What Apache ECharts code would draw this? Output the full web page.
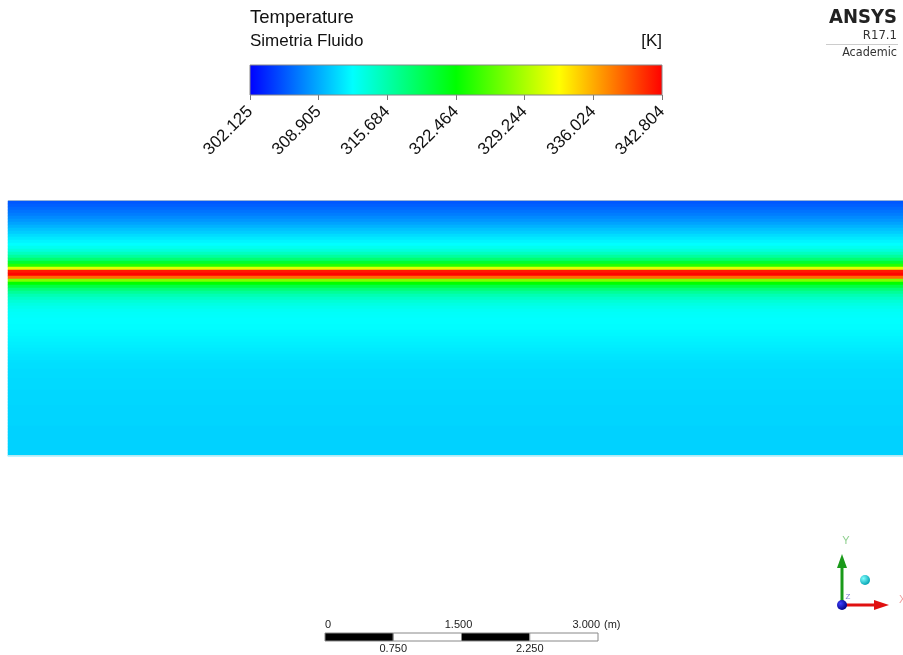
<!DOCTYPE html>
<html>
<head>
<meta charset="utf-8">
<script src="https://cdn.jsdelivr.net/npm/echarts@6/dist/echarts.min.js"></script>
<style>html,body{margin:0;padding:0;background:#fff}#c{width:903px;height:655px}</style>
</head>
<body>
<div id="c"></div>
<script>
// Colour-scale tick labels [K]
const tickLabels = ['302.125','308.905','315.684','322.464','329.244','336.024','342.804'];
const tMin = 302.125, tMax = 342.804;
// ANSYS rainbow colour map
const colormap = ['#0000ff','#0080ff','#00ffff','#00ff80','#00ff00','#80ff00','#ffff00','#ff8000','#ff0000'];
// Temperature profile on the symmetry plane, top row first (K)
const profile = [
  305.6,305.9,306.3,306.7,307.1,307.6,308.1,308.6,309.2,309.8,
  310.3,310.9,311.4,311.9,312.3,312.9,313.7,314.8,316.2,318.0,
  320.5,324.0,331.5,341.8,342.6,338.5,327.5,322.5,319.8,317.8,
  316.4,315.3,314.5,313.9,313.4,313.0,312.7,312.5,312.4,312.3,
  312.3,312.2,312.2,312.1,312.0,311.9,311.8,311.7,311.6,311.5,
  311.4,311.3,311.2,311.1,311.0,311.0,310.9,310.9,310.9,310.8,
  310.8,310.8,310.8,310.7,310.7,310.7,310.7,310.7,310.6,310.6,
  310.6,310.6,310.6,310.6,310.6,310.5,310.5,310.5,310.5,310.5,
  310.5,310.5,310.5,310.5,310.5
];
// Scale bar labels (m)
const scaleTop = ['0','1.500','3.000'];
const scaleBottom = ['0.750','2.250'];

const rows = profile.map((_, i) => 'r' + i);
const heatData = profile.map((v, i) => [0, i, v]);

const chart = echarts.init(document.getElementById('c'), null, {renderer: 'canvas'});
const font = 'Liberation Sans, Arial, sans-serif';

const stops = colormap.map((c, i) => ({offset: i / (colormap.length - 1), color: c}));

// scale bar geometry
const sbL = 325, sbR = 598, sbT = 633, sbH = 8;
const seg = (sbR - sbL) / 4;
const scaleGraphics = [];
for (let i = 0; i < 4; i++) {
  scaleGraphics.push({type:'rect', shape:{x: sbL + i*seg, y: sbT, width: seg, height: sbH},
    style:{fill: i % 2 === 0 ? '#000' : '#fff', stroke: '#888', lineWidth: 1}});
}
const topAlign = ['left', 'center', 'right'];
const topX = [sbL, sbL + 2*seg - 3, sbR + 2];
scaleTop.forEach((t, i) => scaleGraphics.push({type:'text', x: topX[i], y: sbT - 3,
  style:{text: t, font: '11px ' + font, fill: '#222', textAlign: topAlign[i], textVerticalAlign: 'bottom'}}));
scaleGraphics.push({type:'text', x: sbR + 6, y: sbT - 3, style:{text:'(m)', font:'11px ' + font, fill:'#222', textAlign:'left', textVerticalAlign:'bottom'}});
scaleBottom.forEach((t, i) => scaleGraphics.push({type:'text', x: sbL + (2*i+1)*seg, y: sbT + sbH + 2,
  style:{text: t, font: '11px ' + font, fill: '#222', textAlign: 'center', textVerticalAlign: 'top'}}));

// axis triad
const ox = 842, oy = 605;
const triad = [
  {type:'line', shape:{x1:ox, y1:oy, x2:ox, y2:566}, style:{stroke:'#1a9a1a', lineWidth:3}},
  {type:'polygon', shape:{points:[[ox-5,568],[ox+5,568],[ox,554]]}, style:{fill:'#1a9a1a'}},
  {type:'line', shape:{x1:ox, y1:oy, x2:876, y2:oy}, style:{stroke:'#e01010', lineWidth:3}},
  {type:'polygon', shape:{points:[[874,oy-5],[874,oy+5],[889,oy]]}, style:{fill:'#e01010'}},
  {type:'text', x:846, y:541, style:{text:'Y', font:'11px ' + font, fill:'#8fd08f', textAlign:'center', textVerticalAlign:'middle'}},
  {type:'text', x:899, y:600, style:{text:'X', font:'11px ' + font, fill:'#f0a0a0', textAlign:'left', textVerticalAlign:'middle'}},
  {type:'text', x:848, y:597, style:{text:'Z', font:'8px ' + font, fill:'#8080d0', textAlign:'center', textVerticalAlign:'middle'}},
  {type:'circle', shape:{cx:ox, cy:oy, r:5}, style:{fill: new echarts.graphic.RadialGradient(0.35,0.35,0.7,[{offset:0,color:'#4040ff'},{offset:1,color:'#000080'}])}},
  {type:'circle', shape:{cx:865, cy:580, r:5}, style:{fill: new echarts.graphic.RadialGradient(0.35,0.35,0.7,[{offset:0,color:'#80ffff'},{offset:1,color:'#00a0b0'}])}}
];

const option = {
  backgroundColor: '#fff',
  animation: false,
  grid: [
    {left: 8, top: 201, width: 895, height: 255, show: false},
    {left: 250, top: 65, width: 412, height: 30, show: false}
  ],
  xAxis: [
    {type:'category', gridIndex:0, data:['x'], show:false},
    {type:'category', gridIndex:1, data: tickLabels, boundaryGap:false,
     axisLine:{show:false}, axisTick:{show:true, length:5, lineStyle:{color:'#777'}, interval:0},
     axisLabel:{rotate:45, interval:0, margin:14, fontSize:17, color:'#111', fontFamily:font, showMinLabel:true, showMaxLabel:true}}
  ],
  yAxis: [
    {type:'category', gridIndex:0, data: rows, inverse:true, show:false},
    {type:'value', gridIndex:1, show:false, min:0, max:1}
  ],
  visualMap: {type:'continuous', min: tMin, max: tMax, show:false, seriesIndex:0, inRange:{color: colormap}},
  series: [
    {type:'heatmap', xAxisIndex:0, yAxisIndex:0, data: heatData, itemStyle:{borderWidth:0}, emphasis:{disabled:true}}
  ],
  graphic: [
    {type:'rect', shape:{x:8, y:200, width:895, height:1}, style:{fill:'#9ab4d8'}, z:10},
    {type:'rect', shape:{x:8, y:455, width:895, height:1}, style:{fill:'#b8e8f0'}, z:10},
    {type:'rect', shape:{x:250, y:65, width:412, height:30}, style:{fill: new echarts.graphic.LinearGradient(0,0,1,0,stops), stroke:'#888', lineWidth:1}, z:10},
    {type:'text', x:250, y:18, style:{text:'Temperature', font:'18.5px ' + font, fill:'#111', textVerticalAlign:'middle'}},
    {type:'text', x:250, y:41, style:{text:'Simetria Fluido', font:'17px ' + font, fill:'#111', textVerticalAlign:'middle'}},
    {type:'text', x:662, y:41, style:{text:'[K]', font:'17px ' + font, fill:'#111', textAlign:'right', textVerticalAlign:'middle'}},
    {type:'text', x:897, y:18, style:{text:'ANSYS', font:'bold 20px DejaVu Sans Condensed, DejaVu Sans, sans-serif', fill:'#222', textAlign:'right', textVerticalAlign:'middle'}},
    {type:'text', x:897, y:36, style:{text:'R17.1', font:'13px DejaVu Sans Condensed, DejaVu Sans, sans-serif', fill:'#333', textAlign:'right', textVerticalAlign:'middle'}},
    {type:'rect', shape:{x:826, y:44, width:72, height:1}, style:{fill:'#ccc'}},
    {type:'text', x:897, y:53, style:{text:'Academic', font:'12.5px DejaVu Sans Condensed, DejaVu Sans, sans-serif', fill:'#333', textAlign:'right', textVerticalAlign:'middle'}}
  ].concat(scaleGraphics, triad)
};
chart.setOption(option);
</script>
</body>
</html>
